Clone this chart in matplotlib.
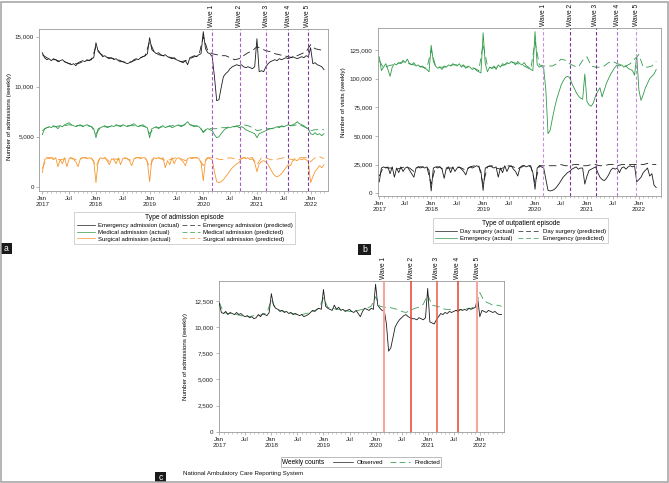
import numpy as np
import matplotlib
matplotlib.use('Agg')
import matplotlib.pyplot as plt
from matplotlib.lines import Line2D
from matplotlib.patches import Rectangle
from matplotlib.ticker import FuncFormatter, FixedLocator

plt.rcParams['font.family'] = ['Liberation Sans', 'DejaVu Sans']

# ---------------- data (semi-monthly actuals, monthly predictions) -------------
A_EMERG_ACT = [13400, 12900, 12700, 12800, 12600, 12800, 12700, 12500, 12600, 12700, 12500, 12400, 12300, 12200, 12300, 12100, 12400, 12500, 12600, 12500, 12700, 12600, 12800, 12900,
               14400, 13500, 13300, 13000, 13100, 12900, 12800, 12900, 12700, 12800, 12600, 12500, 12500, 12400, 12300, 12400, 12500, 12700, 12800, 12700, 12900, 13000, 13100, 13300,
               14900, 13700, 13500, 13300, 13400, 13200, 13100, 13200, 13000, 12900, 12800, 12900, 12700, 12600, 12500, 12400, 12600, 12200, 12900, 13000, 13100, 13000, 13200, 13300,
               15500, 13800, 13400, 13300, 13000, 11000, 8600, 8700, 9900, 11000, 11300, 11500, 11800, 12000, 12100, 12200, 12100, 12200, 12000, 11900, 12000, 11900, 11800, 12000,
               14800, 11500, 11600, 11500, 12000, 12300, 12500, 12600, 12700, 12600, 12800, 12700, 12800, 12900, 12800, 12900, 13000, 12900, 12800, 12900, 13000, 12900, 13100, 13000,
               13900, 12300, 12400, 12200, 12100, 12000, 11700]
A_EMERG_PRED = [13200, 12900, 12700, 12700, 12500, 12500, 12300, 12300, 12300, 12500, 12600, 12700,
                14000, 13300, 13000, 12900, 12800, 12700, 12500, 12400, 12500, 12700, 12900, 13100,
                14500, 13500, 13200, 13100, 13000, 12900, 12700, 12500, 12600, 12800, 13000, 13100,
                15000, 13600, 13300, 13200, 13100, 13100, 12900, 12700, 12800, 13100, 13400, 13600,
                14000, 13800, 13600, 13500, 13300, 13200, 13100, 13000, 12900, 13100, 13300, 13500,
                14200, 13800, 13700, 13600]
A_MED_ACT = [5200, 5800, 5900, 6000, 5900, 6100, 6000, 5800, 6100, 6000, 6200, 6300, 6400, 6200, 6100, 6000, 6100, 6200, 6000, 6100, 6200, 6100, 6000, 5800,
             4900, 5800, 5900, 6000, 6100, 5900, 6000, 6100, 6000, 6200, 6100, 6000, 6200, 6100, 6000, 6100, 6200, 6300, 6100, 6000, 6100, 6200, 6000, 5900,
             4900, 5800, 5900, 6000, 5800, 6000, 6100, 5900, 6000, 6100, 5900, 6000, 6100, 6200, 6000, 6100, 6300, 6500, 6200, 6100, 6000, 6100, 6000, 5800,
             5400, 5700, 5800, 5700, 5600, 5200, 4900, 5000, 5300, 5600, 5800, 5900, 5900, 6000, 6000, 6100, 5900, 6000, 5900, 5700, 5600, 5500, 5400, 5300,
             4900, 5300, 5400, 5500, 5600, 5700, 5800, 5800, 5900, 6000, 5900, 6100, 6000, 6100, 6200, 6100, 6200, 6300, 6500, 6300, 6200, 6100, 5900, 5800,
             5300, 5200, 5400, 5200, 5300, 5100, 5300]
A_MED_PRED = [5600, 5900, 6000, 6000, 6100, 6100, 6200, 6100, 6100, 6100, 6100, 6000,
              5300, 5900, 6000, 6000, 6100, 6100, 6100, 6100, 6100, 6100, 6100, 6000,
              5300, 5900, 5900, 6000, 6000, 6100, 6100, 6100, 6200, 6200, 6100, 6000,
              5500, 5800, 5800, 5800, 5900, 5900, 6000, 6000, 6100, 6200, 6100, 5900,
              5600, 5700, 5800, 5800, 5900, 6000, 6000, 6100, 6100, 6200, 6100, 5900,
              5600, 5700, 5700, 5700]
A_SURG_ACT = [1400, 2700, 2900, 2800, 2900, 2700, 2900, 2000, 2700, 2300, 2900, 2000, 2800, 2900, 2700, 2500, 2000, 2800, 2900, 2900, 2800, 2900, 2800, 2600,
              400, 2600, 2900, 2800, 2900, 2600, 2200, 2800, 2700, 2300, 2900, 2200, 2800, 2900, 2800, 2600, 2100, 2800, 2900, 2900, 2800, 2900, 2900, 2500,
              500, 2700, 2900, 2800, 2900, 2800, 2900, 1900, 2600, 2200, 2900, 2300, 2800, 2900, 2700, 2500, 2100, 2800, 2900, 2800, 2900, 2900, 2800, 2400,
              600, 2700, 2900, 2800, 2700, 1500, 500, 400, 500, 700, 1000, 1300, 1600, 1900, 2100, 2300, 2400, 2800, 2900, 2800, 2900, 2700, 2800, 2400,
              1500, 2300, 2500, 2600, 2500, 2200, 1800, 1400, 1100, 1000, 1100, 1300, 1600, 1900, 2200, 2100, 2600, 2700, 2600, 2800, 2700, 2800, 2700, 2500,
              400, 1000, 1500, 1800, 2100, 1900, 2200]
A_SURG_PRED = [1800, 2900, 2900, 2800, 2700, 2800, 2900, 2800, 2600, 2900, 2900, 2900,
               2000, 2900, 2900, 2500, 2800, 2700, 2900, 2800, 2600, 2900, 2900, 2900,
               2000, 2900, 2900, 2700, 2600, 2800, 2900, 2800, 2600, 2900, 2900, 2900,
               2100, 2900, 2900, 2800, 2700, 2800, 2900, 2800, 2700, 2900, 2900, 2900,
               2200, 2900, 2900, 2700, 2700, 2800, 2900, 2800, 2700, 2900, 2900, 2900,
               2500, 2900, 3000, 2800]

B_EMERG_ACT = [119000, 107000, 110000, 113000, 108000, 102000, 110000, 113000, 112000, 114000, 113000, 116000, 114000, 117000, 113000, 112000, 114000, 111000, 112000, 110000, 111000, 109000, 108000, 106000,
               129000, 115000, 111000, 109000, 110000, 108000, 111000, 110000, 112000, 111000, 113000, 112000, 111000, 113000, 110000, 112000, 109000, 111000, 110000, 108000, 109000, 107000, 106000, 105000,
               140000, 113000, 106000, 110000, 109000, 111000, 108000, 112000, 110000, 113000, 112000, 114000, 113000, 115000, 114000, 112000, 115000, 113000, 112000, 114000, 111000, 110000, 108000, 107000,
               141000, 112000, 110000, 111000, 109000, 90000, 52000, 55000, 65000, 74000, 82000, 88000, 94000, 98000, 101000, 102000, 101000, 96000, 92000, 88000, 85000, 83000, 82000, 104000,
               80000, 77000, 76000, 79000, 85000, 89000, 92000, 84000, 90000, 96000, 100000, 104000, 107000, 110000, 112000, 111000, 112000, 110000, 111000, 109000, 108000, 107000, 103000, 120000,
               90000, 81000, 86000, 92000, 96000, 100000, 102000, 104000, 108000]
B_EMERG_PRED = [116000, 109000, 111000, 112000, 113000, 114000, 115000, 113000, 112000, 111000, 110000, 109000,
                125000, 111000, 110000, 110000, 111000, 112000, 112000, 112000, 110000, 110000, 109000, 107000,
                130000, 111000, 109000, 110000, 111000, 112000, 114000, 114000, 113000, 112000, 110000, 108000,
                132000, 112000, 111000, 111000, 111000, 113000, 117000, 116000, 113000, 111000, 110000, 116000,
                119000, 111000, 110000, 110000, 111000, 114000, 115000, 113000, 112000, 111000, 113000, 117000,
                121000, 110000, 110000, 111000, 115000]
B_DAY_ACT = [10000, 22000, 23000, 22000, 23000, 17000, 23000, 14000, 22000, 18000, 23000, 19000, 22000, 23000, 20000, 17000, 14000, 22000, 23000, 22000, 23000, 22000, 23000, 20000,
             2000, 22000, 23000, 22000, 23000, 21000, 13000, 22000, 23000, 18000, 23000, 19000, 22000, 23000, 21000, 19000, 16000, 22000, 23000, 22000, 23000, 24000, 23000, 19000,
             2500, 22000, 23000, 24000, 23000, 22000, 23000, 14000, 22000, 18000, 24000, 19000, 23000, 24000, 21000, 19000, 15000, 22000, 23000, 24000, 23000, 24000, 23000, 18000,
             3500, 22000, 24000, 23000, 22000, 12000, 2500, 2000, 2500, 3500, 5500, 8000, 11000, 14000, 16000, 18000, 19000, 21000, 22000, 23000, 21000, 22000, 22000, 8000,
             15000, 20000, 21000, 22000, 23000, 18000, 14000, 12000, 11000, 13000, 16000, 20000, 22000, 21000, 22000, 18000, 22000, 23000, 21000, 23000, 24000, 23000, 24000, 10000,
             12000, 14000, 18000, 20000, 22000, 15000, 17000, 7000, 5000]
B_DAY_PRED = [15000, 23000, 22000, 22000, 21000, 22000, 23000, 22000, 19000, 23000, 23000, 23000,
              8000, 23000, 23000, 20000, 22000, 22000, 23000, 22000, 20000, 23000, 24000, 24000,
              8000, 23000, 24000, 22000, 21000, 23000, 24000, 23000, 21000, 24000, 24000, 24000,
              9000, 24000, 24000, 24000, 24000, 24000, 25000, 24000, 24000, 25000, 25000, 24000,
              24000, 25000, 25000, 24000, 24000, 25000, 25000, 24000, 25000, 25000, 25000, 25000,
              25000, 25000, 26000, 25000, 25000]

C_OBS = [12300, 11400, 11300, 11500, 11200, 11400, 11300, 11200, 11400, 11200, 11300, 11100, 11000, 11100, 10900, 11000, 10800, 10900, 11200, 11000, 11300, 11200, 11100, 11400,
         13200, 12100, 11800, 11700, 11500, 11600, 11400, 11500, 11300, 11400, 11200, 11300, 11200, 11100, 11200, 11000, 11100, 11200, 11400, 11600, 11500, 11700, 11800, 11700,
         13600, 12000, 11800, 11700, 11600, 12100, 11700, 11900, 11600, 11700, 11500, 11600, 11700, 11500, 11400, 11600, 11300, 11000, 11500, 11800, 11700, 11600, 11800, 11700,
         14100, 12100, 11800, 11600, 11600, 10300, 7700, 8000, 9000, 10000, 10400, 10700, 10900, 11100, 11200, 11000, 10900, 10800, 10800, 10700, 10900, 10800, 10700, 10900,
         13700, 10500, 10400, 10300, 10700, 11000, 11300, 11200, 11400, 11300, 11500, 11400, 11500, 11600, 11500, 11700, 11600, 11700, 11600, 11800, 11700, 11800, 11900, 12800,
         11000, 11600, 11500, 11400, 11600, 11500, 11400, 11500, 11300, 11200, 11200]
C_PRED = [12400, 11400, 11300, 11300, 11200, 11100, 11000, 11000, 11100, 11100, 11200, 11400,
          12600, 11800, 11600, 11500, 11400, 11300, 11200, 11200, 11300, 11400, 11600, 11800,
          12800, 11900, 11800, 11700, 11700, 11600, 11500, 11500, 11600, 11700, 11800, 12000,
          12900, 12000, 11900, 11900, 11800, 11700, 11500, 11400, 11600, 11800, 11900, 12200,
          13100, 12100, 12000, 11900, 11700, 11700, 11600, 11600, 11700, 11800, 11800, 12000,
          13300, 12500, 12300, 12100, 12100, 12000]

WAVE_DATES = [2020.16, 2020.68, 2021.17, 2021.58, 2021.95]
WAVE_LABELS = ['Wave 1', 'Wave 2', 'Wave 3', 'Wave 4', 'Wave 5']

A_LABELS = ['Emergency admission (actual)', 'Medical admission (actual)', 'Surgical admission (actual)',
            'Emergency admission (predicted)', 'Medical admission (predicted)', 'Surgical admission (predicted)']
B_LABELS = ['Day surgery (actual)', 'Emergency (actual)', 'Day surgery (predicted)', 'Emergency (predicted)']

START = 2017.0


def semi_x(vals):
    return START + np.arange(len(vals)) / 24.0


def month_x(vals):
    return START + np.arange(len(vals)) / 12.0


# ---------------- style ----------------
W, H = 669, 483
BLACK = '#1c1c1c'
GREEN = '#2f9a48'
ORANGE = '#f7962f'
CGREEN = '#3fa05a'
SPINE = '#9a9a9a'
FS_TICK = 4.5
LW = 0.6
DASH = (9, 5)

fig = plt.figure(figsize=(W / 100, H / 100), dpi=100)


def rect(l, t, r, b):
    return [l / W, 1 - b / H, (r - l) / W, (b - t) / H]


def style_axes(ax, xlim, ylim, yticks):
    ax.set_xlim(*xlim)
    ax.set_ylim(*ylim)
    for s in ax.spines.values():
        s.set_color(SPINE)
        s.set_linewidth(0.6)
    major = [y + h for y in range(2017, 2023) for h in (0.0, 0.5) if y + h <= xlim[1]]
    labels = [('Jan\n%d' % int(m)) if m == int(m) else 'Jul' for m in major]
    ax.xaxis.set_major_locator(FixedLocator(major))
    ax.set_xticklabels(labels)
    minor = [START + m / 12.0 for m in range(0, 70) if START + m / 12.0 <= xlim[1]]
    ax.xaxis.set_minor_locator(FixedLocator(minor))
    ax.set_yticks(yticks)
    ax.yaxis.set_major_formatter(FuncFormatter(lambda v, p: '{:,.0f}'.format(v)))
    ax.tick_params(axis='both', which='major', labelsize=FS_TICK, length=2.2, width=0.5,
                   color=SPINE, pad=1.5, labelcolor='#222222')
    ax.tick_params(axis='x', which='minor', length=1.2, width=0.4, color=SPINE)
    for t in ax.get_xticklabels():
        t.set_linespacing(1.15)


def waves(ax, colors, lws, dashed=True):
    for d, lab, c, lw in zip(WAVE_DATES, WAVE_LABELS, colors, lws):
        if dashed:
            ax.axvline(d, color=c, lw=lw, linestyle=(0, (3, 2)), zorder=5)
        else:
            ax.axvline(d, color=c, lw=lw, zorder=5)
        ax.annotate(lab, xy=(d, 1.0), xycoords=('data', 'axes fraction'), xytext=(0, 1.5),
                    textcoords='offset points', rotation=90, ha='center', va='bottom',
                    fontsize=4.8, color='#111111', annotation_clip=False)


def make_legend(handles, labels, title, center, fs, hl, cs):
    leg = fig.legend(handles, labels, ncol=2, loc='center',
                     bbox_to_anchor=(center[0] / W, 1 - center[1] / H),
                     bbox_transform=fig.transFigure, fontsize=fs, title=title,
                     title_fontsize=4.8, frameon=True, fancybox=False, edgecolor='#c0c0c0',
                     framealpha=1, handlelength=hl, handletextpad=0.5, columnspacing=cs,
                     labelspacing=0.25, borderpad=0.35, borderaxespad=0)
    leg.get_frame().set_linewidth(0.5)
    return leg


# ---------------- panel a ----------------
axa = fig.add_axes(rect(39.3, 29, 328.3, 191))
axa.plot(month_x(A_EMERG_PRED), A_EMERG_PRED, color=BLACK, lw=LW, dashes=DASH, zorder=2)
axa.plot(month_x(A_MED_PRED), A_MED_PRED, color=GREEN, lw=LW, dashes=DASH, zorder=2)
axa.plot(month_x(A_SURG_PRED), A_SURG_PRED, color=ORANGE, lw=LW, dashes=DASH, zorder=2)
axa.plot(semi_x(A_EMERG_ACT), A_EMERG_ACT, color=BLACK, lw=LW, zorder=3)
axa.plot(semi_x(A_MED_ACT), A_MED_ACT, color=GREEN, lw=LW, zorder=3)
axa.plot(semi_x(A_SURG_ACT), A_SURG_ACT, color=ORANGE, lw=LW, zorder=3)
style_axes(axa, (2016.944, 2022.33), (-430, 15770), [0, 5000, 10000, 15000])
waves(axa, ['#a65bc9', '#a65bc9', '#a65bc9', '#7c3a9c', '#7c3a9c'], [0.8] * 5)
fig.text(9.5 / W, 1 - 117 / H, 'Number of admissions (weekly)', rotation=90, ha='center',
         va='center', fontsize=4.5)

ha = [Line2D([], [], color=BLACK, lw=0.5), Line2D([], [], color=GREEN, lw=0.5),
      Line2D([], [], color=ORANGE, lw=0.5),
      Line2D([], [], color=BLACK, lw=0.5, dashes=(7, 4)), Line2D([], [], color=GREEN, lw=0.5, dashes=(7, 4)),
      Line2D([], [], color=ORANGE, lw=0.5, dashes=(7, 4))]
make_legend(ha, A_LABELS, 'Type of admission episode', (184.5, 228), 4.35, 3.0, 0.45)

# ---------------- panel b ----------------
axb = fig.add_axes(rect(377.7, 28.3, 660.7, 196))
axb.plot(month_x(B_EMERG_PRED), B_EMERG_PRED, color=GREEN, lw=LW, dashes=DASH, zorder=2)
axb.plot(month_x(B_DAY_PRED), B_DAY_PRED, color=BLACK, lw=LW, dashes=DASH, zorder=2)
axb.plot(semi_x(B_EMERG_ACT), B_EMERG_ACT, color=GREEN, lw=LW, zorder=3)
axb.plot(semi_x(B_DAY_ACT), B_DAY_ACT, color=BLACK, lw=LW, zorder=3)
style_axes(axb, (2016.97, 2022.42), (-2400, 143900), [0, 25000, 50000, 75000, 100000, 125000])
waves(axb, ['#c98fdc', '#7d2e95', '#7d2e95', '#b070cc', '#c98fdc'], [0.8] * 5)
fig.text(343 / W, 1 - 102 / H, 'Number of visits (weekly)', rotation=90, ha='center',
         va='center', fontsize=4.5)
hb = [Line2D([], [], color=BLACK, lw=0.5), Line2D([], [], color=GREEN, lw=0.5),
      Line2D([], [], color=BLACK, lw=0.5, dashes=(7, 4)), Line2D([], [], color=GREEN, lw=0.5, dashes=(7, 4))]
make_legend(hb, B_LABELS, 'Type of outpatient episode', (520.5, 230.5), 4.35, 3.6, 0.7)

# ---------------- panel c ----------------
axc = fig.add_axes(rect(218.7, 280.7, 504.3, 432.3))
axc.plot(month_x(C_PRED), C_PRED, color=CGREEN, lw=LW, dashes=DASH, zorder=2)
axc.plot(semi_x(C_OBS), C_OBS, color=BLACK, lw=LW, zorder=3)
style_axes(axc, (2016.99, 2022.47), (-60, 14440), [0, 2500, 5000, 7500, 10000, 12500])
waves(axc, ['#f6a69c', '#e8402f', '#ec5a45', '#e8402f', '#f6a69c'], [1.5, 1.1, 1.1, 1.1, 1.5], dashed=False)
fig.text(185 / W, 1 - 357 / H, 'Number of admissions (weekly)', rotation=90, ha='center',
         va='center', fontsize=4.5)
hc = [Line2D([], [], color=BLACK, lw=0.5), Line2D([], [], color=CGREEN, lw=0.6, dashes=(7, 4))]
legc = fig.legend(hc, ['Observed', 'Predicted'], ncol=2, loc='center',
                  bbox_to_anchor=(361 / W, 1 - 462 / H), bbox_transform=fig.transFigure,
                  fontsize=4.4, title='Weekly counts', title_fontsize=4.7, frameon=True,
                  fancybox=False, edgecolor='#a0a0a0', framealpha=1, handlelength=3.3,
                  handletextpad=0.6, columnspacing=1.2, borderpad=0.25, borderaxespad=0)
legc.get_frame().set_linewidth(0.5)
try:
    from matplotlib.offsetbox import HPacker
    old = legc._legend_box
    kids = old.get_children()
    newbox = HPacker(pad=old.pad, sep=6, align='center', children=kids)
    newbox.set_figure(fig)
    legc._legend_box = newbox
    legc._set_loc(legc._loc)
except Exception:
    pass

fig.text(183 / W, 1 - 473 / H, 'National Ambulatory Care Reporting System', ha='left',
         va='center', fontsize=4.4, color='#111111')


# ---------------- panel tags & border ----------------
def tag(x0, y0, x1, y1, ch):
    fig.patches.append(Rectangle((x0 / W, 1 - y1 / H), (x1 - x0) / W, (y1 - y0) / H,
                                 transform=fig.transFigure, facecolor='#1a1a1a',
                                 edgecolor='none', zorder=10))
    fig.text((x0 + x1) / 2 / W, 1 - (y0 + y1) / 2 / H, ch, color='white', ha='center',
             va='center', fontsize=6.2, zorder=11)


tag(1, 243, 11.5, 254, 'a')
tag(358, 244, 371, 254.5, 'b')
tag(155, 472, 166, 482, 'c')

fig.patches.append(Rectangle((1 / W, 1 - 482 / H), 667 / W, 480.5 / H, transform=fig.transFigure,
                             facecolor='none', edgecolor='#a0a0a0', lw=1.1, zorder=12))

fig.savefig('out.png', dpi=100)
